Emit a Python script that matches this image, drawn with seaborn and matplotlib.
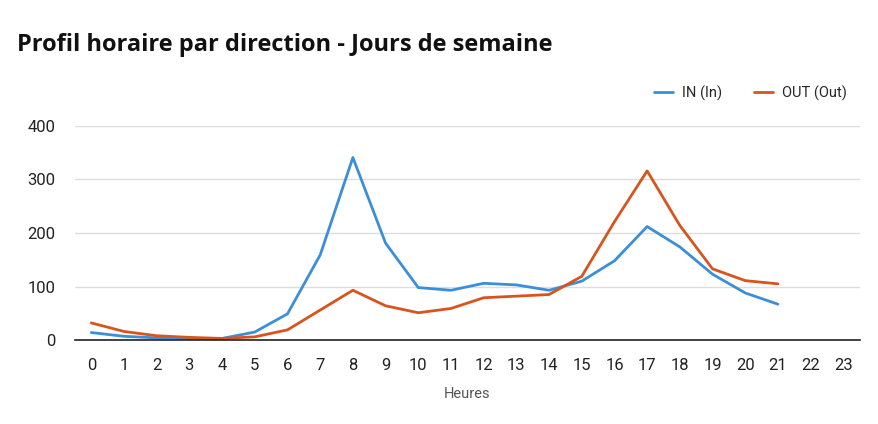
import numpy as np
import pandas as pd
import seaborn as sns
import matplotlib.pyplot as plt
from matplotlib.lines import Line2D

hours = list(range(24))
in_vals = [14, 7, 4, 3, 3, 15, 49, 159, 341, 181, 98, 93, 106, 103, 93, 110,
           148, 212, 174, 123, 88, 67, np.nan, np.nan]
out_vals = [32, 16, 8, 5, 3, 6, 19, 56, 93, 64, 51, 59, 79, 82, 85, 119,
            221, 316, 214, 133, 111, 105, np.nan, np.nan]
series_names = ["IN (In)", "OUT (Out)"]
colors = ["#3b8fd9", "#d8541e"]

df = pd.DataFrame({"Heures": hours * 2,
                   "value": in_vals + out_vals,
                   "direction": [series_names[0]] * 24 + [series_names[1]] * 24})

sns.set_theme(style="white")
plt.rcParams['font.family'] = ['Roboto', 'DejaVu Sans']

fig = plt.figure(figsize=(8.79, 4.24), dpi=100)
ax = fig.add_axes([0.0853, 0.198, 0.8927, 0.505])

sns.lineplot(data=df, x="Heures", y="value", hue="direction",
             palette=colors, linewidth=2, ax=ax, legend=False)

ax.set_xlim(-0.5, 23.5)
ax.set_ylim(0, 400)
ax.set_xticks(hours)
ax.set_yticks([0, 100, 200, 300, 400])
ax.tick_params(axis="both", length=0, labelsize=12, colors="#222222")
ax.tick_params(axis="x", pad=13)
ax.tick_params(axis="y", pad=14)
ax.grid(axis="y", color="#dddddd", linewidth=1)
ax.set_axisbelow(True)
for s in ["top", "right", "left"]:
    ax.spines[s].set_visible(False)
ax.spines["bottom"].set_color("#222222")
ax.spines["bottom"].set_linewidth(1.2)
ax.set_ylabel("")
ax.set_xlabel("Heures", fontsize=10.5, color="#555555", labelpad=10)

fig.text(0.019, 0.895, "Profil horaire par direction - Jours de semaine",
         fontsize=17, fontweight="bold", color="#111111", va="center",
         family=["Open Sans", "DejaVu Sans"])

handles = [Line2D([], [], color=c, linewidth=2) for c in colors]
fig.legend(handles, series_names, loc="center right",
           bbox_to_anchor=(0.978, 0.78), ncol=2, frameon=False,
           fontsize=10.5, handlelength=1.3, columnspacing=2.2, handletextpad=0.6)

fig.savefig("out.png", dpi=100)
